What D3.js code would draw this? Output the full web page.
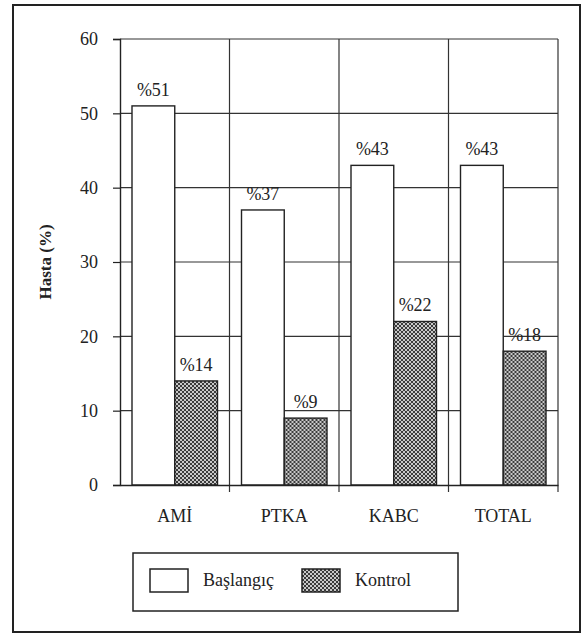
<!DOCTYPE html>
<html>
<head>
<meta charset="utf-8">
<script src="https://cdn.jsdelivr.net/npm/d3@7"></script>
<style>
  body { margin: 0; background: #fff; }
  svg text { font-family: "Liberation Serif", serif !important; fill: #222; }
</style>
</head>
<body>
<div id="chart"></div>
<script>
var categories = ['AMİ', 'PTKA', 'KABC', 'TOTAL'];
var seriesNames = ['Başlangıç', 'Kontrol'];
var baslangic = [51, 37, 43, 43];
var kontrol = [14, 9, 22, 18];
var yTicks = [0, 10, 20, 30, 40, 50, 60];

var drawChart = function(){
  var W = 588, H = 634;
  var margin = { top: 39, right: 30, bottom: 149, left: 120 },
  width = W - margin.left - margin.right,
  height = H - margin.top - margin.bottom;

  var svg = d3.select('#chart').append('svg')
    .attr('width', W)
    .attr('height', H);

  // pattern for Kontrol bars
  var pat = svg.append('defs').append('pattern')
    .attr('id', 'dots')
    .attr('patternUnits', 'userSpaceOnUse')
    .attr('width', 4).attr('height', 4);
  pat.append('rect').attr('width', 4).attr('height', 4).attr('fill', '#3a3a3a');
  pat.append('rect').attr('x', 0).attr('y', 0).attr('width', 2).attr('height', 2).attr('fill', '#c8c8c8');
  pat.append('rect').attr('x', 2).attr('y', 2).attr('width', 2).attr('height', 2).attr('fill', '#c8c8c8');

  // outer frame
  svg.append('rect')
    .attr('x', 13).attr('y', 5)
    .attr('width', 567).attr('height', 627)
    .attr('fill', 'none')
    .attr('stroke', '#222')
    .attr('stroke-width', 2);

  var g = svg.append('g')
    .attr('transform', 'translate(' + margin.left + ',' + margin.top + ')');

  var x = d3.scaleBand()
    .domain(categories)
    .range([0, width])
    .padding(0);

  var xInner = d3.scaleBand()
    .domain(seriesNames)
    .range([12, x.bandwidth() - 12]);

  var y = d3.scaleLinear()
    .domain([0, 60])
    .range([height, 0]);

  // horizontal grid
  g.append('g').selectAll('line')
    .data(yTicks.slice(1))
    .enter().append('line')
      .attr('x1', 0).attr('x2', width)
      .attr('y1', function(d){ return y(d); })
      .attr('y2', function(d){ return y(d); })
      .attr('stroke', '#333').attr('stroke-width', 1.2);

  // vertical grid at category boundaries
  g.append('g').selectAll('line')
    .data(categories)
    .enter().append('line')
      .attr('x1', function(d){ return x(d) + x.bandwidth(); })
      .attr('x2', function(d){ return x(d) + x.bandwidth(); })
      .attr('y1', 0).attr('y2', height + 7)
      .attr('stroke', '#333').attr('stroke-width', 1.2);

  var rows = categories.map(function(c, i){
    return { cat: c, values: [
      { key: seriesNames[0], value: baslangic[i] },
      { key: seriesNames[1], value: kontrol[i] }
    ]};
  });

  var groups = g.selectAll('.grp')
    .data(rows)
    .enter().append('g')
      .attr('class', 'grp')
      .attr('transform', function(d){ return 'translate(' + x(d.cat) + ',0)'; });

  groups.selectAll('rect')
    .data(function(d){ return d.values; })
    .enter().append('rect')
      .attr('x', function(d){ return xInner(d.key); })
      .attr('y', function(d){ return y(d.value); })
      .attr('width', xInner.bandwidth())
      .attr('height', function(d){ return height - y(d.value); })
      .attr('fill', function(d, i){ return i === 0 ? '#fff' : 'url(#dots)'; })
      .attr('stroke', '#222')
      .attr('stroke-width', 1.4);

  // value labels
  groups.selectAll('.val')
    .data(function(d){ return d.values; })
    .enter().append('text')
      .attr('class', 'val')
      .attr('x', function(d){ return xInner(d.key) + xInner.bandwidth() / 2; })
      .attr('y', function(d){ return y(d.value) - 10; })
      .style('text-anchor', 'middle')
      .style('font-size', '18px')
      .text(function(d){ return '%' + d.value; });

  // y axis
  var yAxis = g.append('g')
    .call(d3.axisLeft(y).tickValues(yTicks).tickSize(7).tickPadding(15));
  yAxis.attr('font-family', null);
  yAxis.select('.domain').attr('stroke', '#222').attr('stroke-width', 1.4);
  yAxis.selectAll('line').attr('stroke', '#222').attr('stroke-width', 1.2);
  yAxis.selectAll('text').style('font-size', '18px').attr('fill', '#222');

  // x axis
  var xAxis = g.append('g')
    .attr('transform', 'translate(0,' + height + ')')
    .call(d3.axisBottom(x).tickSize(0).tickPadding(24).tickSizeOuter(0));
  xAxis.attr('font-family', null);
  xAxis.select('.domain').attr('stroke', '#222').attr('stroke-width', 1.4);
  xAxis.selectAll('text').style('font-size', '18px').attr('fill', '#222');

  // y axis label
  svg.append('text')
    .attr('transform', 'rotate(-90)')
    .attr('x', -262)
    .attr('y', 51)
    .style('text-anchor', 'middle')
    .style('font-size', '17px')
    .style('font-weight', 'bold')
    .text('Hasta (%)');

  // legend
  var leg = svg.append('g').attr('transform', 'translate(133,553)');
  leg.append('rect')
    .attr('width', 325).attr('height', 58)
    .attr('fill', '#fff').attr('stroke', '#222').attr('stroke-width', 1.5);
  var items = leg.selectAll('.item')
    .data(seriesNames)
    .enter().append('g')
      .attr('transform', function(d, i){ return 'translate(' + (17 + i * 152) + ',16)'; });
  items.append('rect')
    .attr('width', 38).attr('height', 23)
    .attr('fill', function(d, i){ return i === 0 ? '#fff' : 'url(#dots)'; })
    .attr('stroke', '#222').attr('stroke-width', 1.5);
  items.append('text')
    .attr('x', 53).attr('y', 17)
    .style('font-size', '18px')
    .text(function(d){ return d; });
};

drawChart();
</script>
</body>
</html>
